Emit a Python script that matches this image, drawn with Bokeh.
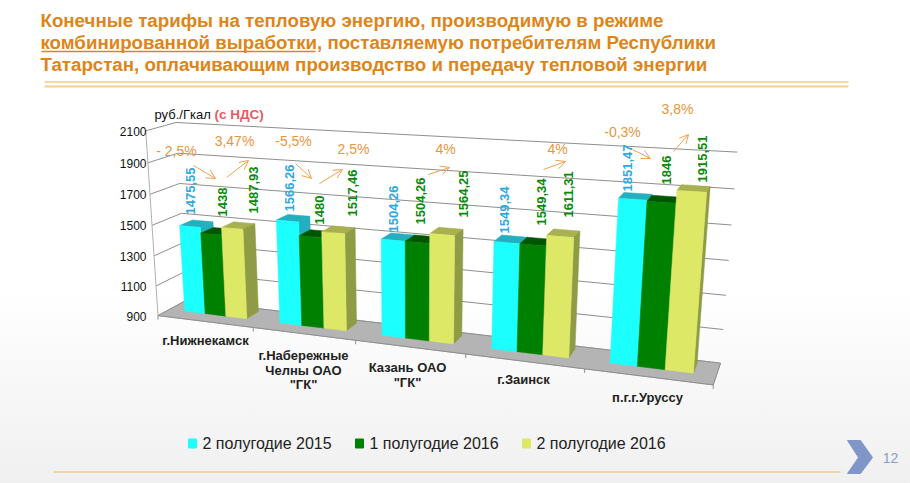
import numpy as np
from bokeh.plotting import figure
from bokeh.models import Range1d, Arrow, OpenHead
from bokeh.core.properties import value
from bokeh.embed import file_html
from bokeh.resources import INLINE

# ---------- data ----------
title_lines = ["Конечные тарифы на тепловую энергию, производимую в режиме",
               "комбинированной выработки, поставляемую потребителям Республики",
               "Татарстан, оплачивающим производство и передачу тепловой энергии"]
categories = ["г.Нижнекамск", 'г.Набережные\nЧелны ОАО\n"ГК"', 'Казань ОАО\n"ГК"', "г.Заинск", "п.г.г.Уруссу"]
series_names = ["2 полугодие 2015", "1 полугодие 2016", "2 полугодие 2016"]
h2_2015 = [1475.55, 1566.26, 1504.26, 1549.34, 1851.47]
h1_2016 = [1438, 1480, 1504.26, 1549.34, 1846]
h2_2016 = [1487.93, 1517.46, 1564.25, 1611.31, 1915.51]
labels_2015 = ["1475,55", "1566,26", "1504,26", "1549,34", "1851,47"]
labels_h1 = ["1438", "1480", "1504,26", "1549,34", "1846"]
labels_h2 = ["1487,93", "1517,46", "1564,25", "1611,31", "1915,51"]
y_ticks = [900, 1100, 1300, 1500, 1700, 1900, 2100]
change_labels = ["- 2,5%", "3,47%", "-5,5%", "2,5%", "4%", "4%", "-0,3%", "3,8%"]

# ---------- style ----------
FONT = value("Liberation Sans")
ORANGE = "#DD8518"
ARROW = "#F0A050"
fronts = ["#1CFFFF", "#008000", "#DDE866"]
tops = ["#23AFBD", "#005500", "#A8B04F"]
sides = ["#23AFBD", "#005500", "#8F9C45"]
label_cols = ["#2FA8E0", "#0A8A0A", "#0A8A0A"]

# ---------- chart projection (world: category, depth, value) -> page pixels ----------
V0, V1 = 900.0, 2100.0
anchors = [
    ((0, 0, 900), (158, 314)), ((0, 0, 900), (158, 314)), ((0, 0, 900), (158, 314)),
    ((1, 0, 900), (253, 328)), ((2, 0, 900), (355, 342)),
    ((3, 0, 900), (465, 355)), ((4, 0, 900), (583, 370)), ((5, 0, 900), (713, 385)),
    ((0, 1, 900), (183, 303)), ((5, 1, 900), (720, 359)),
    ((0, 0, 2100), (143, 131)), ((0, 0, 1900), (147, 162)), ((0, 0, 1700), (148, 193)),
    ((0, 0, 1500), (152, 225)), ((0, 0, 1300), (155, 254)), ((0, 0, 1100), (157, 284)),
    ((0, 1, 2100), (178, 122)),
    ((5, 1, 2100), (737, 152)), ((5, 1, 1900), (733, 189)), ((5, 1, 1700), (732, 225)),
    ((5, 1, 1500), (728, 260)), ((5, 1, 1300), (726, 294)), ((5, 1, 1100), (723, 328)),
]
A, b = [], []
for (u, d, v), (x, y) in anchors:
    t = (v - V0) / (V1 - V0)
    A.append([u, d, t, 1, 0, 0, 0, 0, -x * u, -x * d, -x * t]); b.append(x)
    A.append([0, 0, 0, 0, u, d, t, 1, -y * u, -y * d, -y * t]); b.append(y)
h = np.linalg.lstsq(np.array(A, float), np.array(b, float), rcond=None)[0]
M = np.append(h, 1.0).reshape(3, 4)


def proj(u, d, v):
    q = M @ np.array([u, d, (v - V0) / (V1 - V0), 1.0])
    return q[0] / q[2], q[1] / q[2]


def poly(pts):
    P = [proj(*p) for p in pts]
    return [a for a, _ in P], [c for _, c in P]


p = figure(width=910, height=483, x_range=Range1d(0, 910), y_range=Range1d(483, 0),
           output_backend="svg", toolbar_location=None, min_border=0,
           background_fill_color=None, border_fill_color=None, outline_line_color=None)
p.axis.visible = False
p.grid.visible = False

# title
for i, line in enumerate(title_lines):
    p.text([40], [20 + 22 * i], text=[line], text_font=FONT, text_font_style="bold",
           text_font_size="18.7px", text_color=ORANGE, text_baseline="middle")
p.line([41, 315], [51, 51], line_color=ORANGE, line_width=1.5)
p.line([44, 848], [81.5, 81.5], line_color="#EDB04F", line_width=1)
p.line([44, 848], [86, 86], line_color="#F5CE94", line_width=2)

# floor
fx, fy = poly([(0, 0, V0), (5, 0, V0), (5, 1, V0), (0, 1, V0)])
p.patch(fx, fy, fill_color="#B4B4B4", line_color="#B4B4B4")

# gridlines + axis
gxs, gys = [], []
for v in y_ticks:
    gx, gy = poly([(0, 0, v), (0, 1, v), (5, 1, v)])
    gxs.append(gx); gys.append(gy)
p.multi_line(gxs, gys, line_color="#8E8E8E", line_width=1)
ax, ay = poly([(0, 0, V0), (0, 0, V1)])
p.line(ax, ay, line_color="#B0B0B0", line_width=1)
ex, ey = poly([(0, 0, V0), (5, 0, V0), (5, 1, V0)])
p.line(ex, ey, line_color="#8E8E8E", line_width=1)
tx, ty = [], []
for u in range(6):
    a = proj(u, 0, V0)
    tx.append([a[0], a[0]]); ty.append([a[1], a[1] + 4])
p.multi_line(tx, ty, line_color="#8E8E8E", line_width=1)

# y tick labels
for v in y_ticks:
    a = proj(0, 0, v)
    p.text([146], [a[1] + 0.5], text=[str(v)], text_font=FONT, text_font_size="12px",
           text_color="#111111", text_align="right", text_baseline="middle")

# bars
U0, BW = 0.165, 0.22
D0, D1 = 0.4, 0.85
series = [h2_2015, h1_2016, h2_2016]
bx, by, bc = [], [], []
for c in range(5):
    for s in range(3):
        val = series[s][c]
        u0 = c + U0 + s * BW
        u1 = u0 + BW
        for pts, col in (
            ([(u0, D0, val), (u1, D0, val), (u1, D1, val), (u0, D1, val)], tops[s]),
            ([(u1, D0, V0), (u1, D1, V0), (u1, D1, val), (u1, D0, val)], sides[s]),
            ([(u0, D0, V0), (u1, D0, V0), (u1, D0, val), (u0, D0, val)], fronts[s]),
        ):
            x_, y_ = poly(pts)
            bx.append(x_); by.append(y_); bc.append(col)
p.patches(bx, by, fill_color=bc, line_color=bc, line_width=0.5)

# value labels (hand-placed in the source slide: x centre, lower end)
label_anchor_x = [[190, 222, 253], [289, 319, 352], [393, 420, 463], [504, 541, 568], [627, 666, 702]]
label_anchor_y = [[214, 216, 213], [211, 224, 216], [232, 224, 217], [233, 225, 217], [191, 184, 182]]
all_labels = [labels_2015, labels_h1, labels_h2]
for c in range(5):
    for s in range(3):
        p.text([label_anchor_x[c][s]], [label_anchor_y[c][s]], text=[all_labels[s][c]], angle=[np.pi / 2],
               text_font=FONT, text_font_style="bold", text_font_size="13px", text_color=label_cols[s],
               text_align="left", text_baseline="middle")

# change labels and arrows
label_xy = [(176, 150), (234, 140), (293, 140), (353, 148), (445, 148), (557, 148), (622, 131), (677, 108)]
for (x, y), t in zip(label_xy, change_labels):
    p.text([x], [y], text=[t], text_font=FONT, text_font_size="14px", text_color="#E8963C",
           text_align="center", text_baseline="middle")
arrows = [(193, 165, 215, 178), (226, 177, 248, 160), (295, 163, 311, 178), (319, 183, 342, 169),
          (428, 174, 449, 167), (543, 169, 565, 161), (632, 149, 650, 158), (673, 151, 688, 134)]
for x0, y0, x1, y1 in arrows:
    p.add_layout(Arrow(end=OpenHead(size=9, line_color=ARROW, line_width=1), x_start=x0, y_start=y0,
                       x_end=x1, y_end=y1, line_color=ARROW, line_width=1))

# category labels
cat_pos = [(205, 340), (303, 355), (407, 367), (523, 379), (647, 397)]
for (x, y), cat in zip(cat_pos, categories):
    for i, line in enumerate(cat.split("\n")):
        p.text([x], [y + 14.5 * i], text=[line], text_font=FONT, text_font_style="bold",
               text_font_size="13px", text_color="#222222", text_align="center", text_baseline="middle")

# unit
p.text([154], [114], text=["руб./Гкал"], text_font=FONT, text_font_size="13px", text_color="#111111",
       text_baseline="middle")
p.text([214], [114], text=["(с НДС)"], text_font=FONT, text_font_style="bold", text_font_size="13.5px",
       text_color="#E85A64", text_baseline="middle")

# legend
for x, name, col in zip([192, 359, 526], series_names, fronts):
    p.rect([x], [443], width=8, height=9, fill_color=col, line_color=col)
    p.text([x + 10], [443], text=[name], text_font=FONT, text_font_size="16px", text_color="#222222",
           text_baseline="middle")

# footer
p.line([53, 840], [471.5, 471.5], line_color="#F2B860", line_width=1)
p.patch([847, 860, 872, 860, 847, 858], [440, 440, 457, 473, 473, 457], fill_color="#8096C8", line_color="#8096C8")
p.text([890], [457], text=["12"], text_font=FONT, text_font_size="14px", text_color="#8A9BC8",
       text_align="center", text_baseline="middle")

style = ("<style>html,body{margin:0;height:100%;overflow:hidden;"
         "background:linear-gradient(to bottom,#ffffff 0%,#ffffff 60%,#f0f0f0 100%);}</style>")
open("out.html", "w").write(file_html(p, INLINE).replace("</head>", style + "</head>", 1))
